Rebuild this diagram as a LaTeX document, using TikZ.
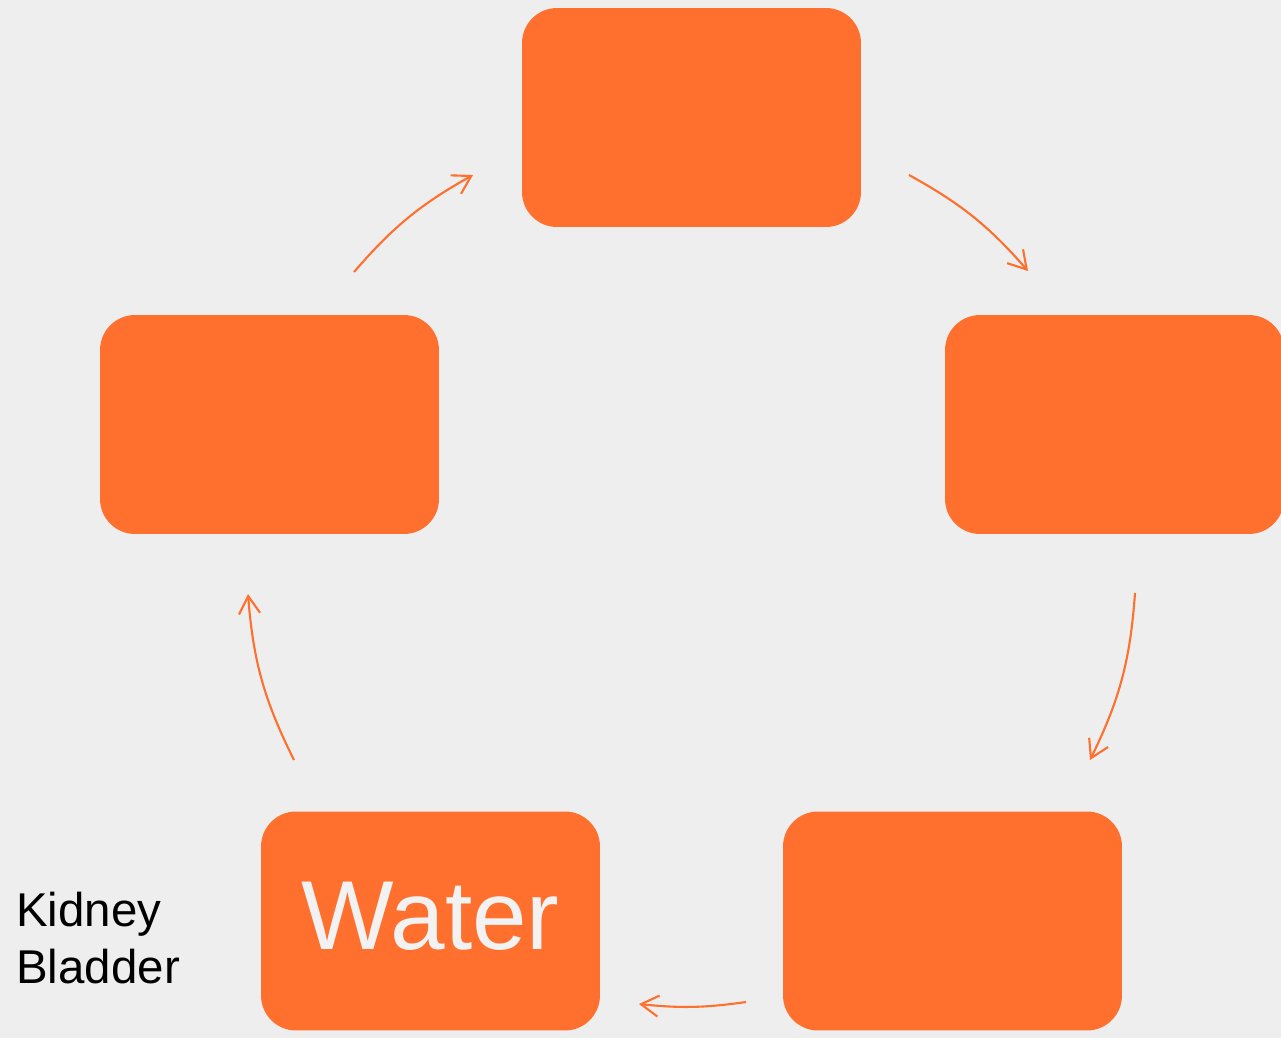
\documentclass[tikz,border=0pt]{standalone}
\usepackage{fontspec}
\setmainfont{Liberation Sans}
\usetikzlibrary{arrows.meta}
\definecolor{cycleorange}{HTML}{FF6F2E}
\definecolor{paper}{HTML}{EEEEEE}
\begin{document}
\begin{tikzpicture}[x=.02cm,y=-.02cm,
  stage/.style={fill=cycleorange,rounded corners=.7cm,minimum width=6.78cm,minimum height=4.38cm,inner sep=0pt},
  flow/.style={draw=cycleorange,line width=1.2pt,-{Straight Barb[length=10pt,width=12pt]}}]
\fill[paper] (0,0) rectangle (1281,1038);
\useasboundingbox (0,0) rectangle (1281,1038);
\clip (0,0) rectangle (1281,1038);
% the five stages
\node[stage] (top) at (691.5,117.5){};
\node[stage] (right) at (1114.5,424.5){};
\node[stage] (lowright) at (952.5,921){};
\node[stage,text=white!95!black,text depth=.2cm,font=\fontsize{55.8}{60}\selectfont] (water) at (430.5,921){Water};
\node[stage] (left) at (269.5,424.5){};
\node[anchor=north west,align=left,inner sep=0pt,font=\fontsize{27}{32.3}\selectfont] (organs) at (16,892){Kidney\\Bladder};
% arrows round the cycle
\coordinate (f1) at (354,272); \coordinate (t1) at (473,175);
\coordinate (f2) at (909,175); \coordinate (t2) at (1028,271);
\coordinate (f3) at (1135,593); \coordinate (t3) at (1090,760);
\coordinate (f4) at (746,1002); \coordinate (t4) at (639,1004);
\coordinate (f5) at (294,760); \coordinate (t5) at (248,594);
\draw[flow] (f1) to[bend left=10] (t1);
\draw[flow] (f2) to[bend left=10] (t2);
\draw[flow] (f3) to[bend left=11] (t3);
\draw[flow] (f4) to[bend left=7] (t4);
\draw[flow] (f5) to[bend left=11] (t5);
\end{tikzpicture}
\end{document}
